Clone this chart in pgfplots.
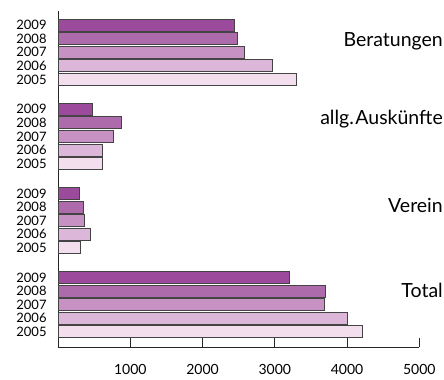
\documentclass[border=0pt]{standalone}
\usepackage{pgfplots}
\pgfplotsset{compat=1.18}
\usepackage{fontspec}
\setmainfont{Lato}
\definecolor{cA}{HTML}{F3DEEE}
\definecolor{cB}{HTML}{DDB7D9}
\definecolor{cC}{HTML}{C792C3}
\definecolor{cD}{HTML}{AD6BAB}
\definecolor{cE}{HTML}{9C4A9C}
\definecolor{edge}{HTML}{444444}
\begin{document}
\begin{tikzpicture}
\begin{axis}[
  scale only axis,
  width=361.2pt, height=335.7pt,
  xmin=0, xmax=5000, ymin=-1.12, ymax=23.61,
  axis x line=bottom, axis y line=left,
  axis line style={-, draw=black!85, line width=1.1pt},
  xbar, bar width=0.88, bar shift=0pt,
  xtick={1000,2000,3000,4000,5000},
  tick align=inside, major tick length=9pt,
  x tick style={draw=black!85, line width=1.1pt},
  y tick style={draw=none},
  scaled x ticks=false,
  /pgf/number format/assume math mode=true,
  xticklabel={\pgfmathprintnumber[1000 sep={}]{\tick}},
  xticklabel style={font=\fontsize{14}{14}\selectfont, yshift=-14pt},
  ytick={0,1,2,3,4, 6.2,7.2,8.2,9.2,10.2, 12.4,13.4,14.4,15.4,16.4, 18.6,19.6,20.6,21.6,22.6},
  yticklabels={2005,2006,2007,2008,2009,2005,2006,2007,2008,2009,2005,2006,2007,2008,2009,2005,2006,2007,2008,2009},
  yticklabel style={font=\fontsize{13}{13}\selectfont, xshift=-8pt},
  clip=false,
  every axis plot/.append style={draw=edge, line width=0.9pt},
]
% y positions: Total = 0+k, Verein = 6.2+k, allg. Auskuenfte = 12.4+k, Beratungen = 18.6+k
\addplot[fill=cA] coordinates {(4219,0) (307,6.2) (612,12.4) (3305,18.6)};
\addplot[fill=cB] coordinates {(4006,1) (446,7.2) (608,13.4) (2967,19.6)};
\addplot[fill=cC] coordinates {(3690,2) (359,8.2) (765,14.4) (2579,20.6)};
\addplot[fill=cD] coordinates {(3697,3) (349,9.2) (871,15.4) (2482,21.6)};
\addplot[fill=cE] coordinates {(3203,4) (294,10.2) (470,16.4) (2440,22.6)};
\node[anchor=base east, font=\fontsize{19.5}{19.5}\selectfont, inner sep=0pt] at (axis cs:5328,21.01) {Beratungen};
\node[anchor=base east, font=\fontsize{19.5}{19.5}\selectfont, inner sep=0pt] at (axis cs:5328,15.26) {allg.\hspace{1.5pt}Auskünfte};
\node[anchor=base east, font=\fontsize{19.5}{19.5}\selectfont, inner sep=0pt] at (axis cs:5328,8.76) {Verein};
\node[anchor=base east, font=\fontsize{19.5}{19.5}\selectfont, inner sep=0pt] at (axis cs:5328,2.56) {Total};
\coordinate (BL) at (axis cs:-804,-3.495);
\coordinate (TR) at (axis cs:5342,24.45);
\end{axis}
\pgfresetboundingbox
\path (BL) rectangle (TR);
\end{tikzpicture}
\end{document}
